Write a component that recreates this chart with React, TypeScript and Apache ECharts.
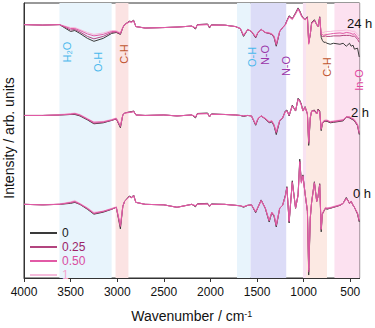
import React, { useEffect, useRef } from "react";
import * as echarts from "echarts";

// Wavenumber grid (cm^-1), descending
const wavenumbers = [4000,3800,3620,3500,3455,3400,3320,3250,3150,3060,
3010,2966,2940,2921,2870,2845,2824,2800,2700,2500,
2359,
2200,2160,2140,2030,2010,1990,
1850,1732,1680,1645,1600,1560,1515,
1490,1456,1412,1370,1342,1318,1294,1257,1226,1197,
1180,1156,1122,1087,1060,1042,1025,1008,985,960,
946,929,915,885,860,846,828,812,800,784,
766,750,715,680,611,577,543,508,491,470,
456,422,404];

// 0 h spectra
const h0_c0 = [75,74.5,75,76,77,75,70,65,67,70,
72,50,73,78,83.5,82,84.5,77,75,74.5,
72,
75,72.5,75.5,76,73,75.5,
75,74,73.5,72,74,74.5,66.5,
72,79.5,71,57,66.5,63,52,71,74,84,
93,56,99,71,85,121,98,105,86,68,
3,61,77,98,78,83,96,47,65,68,
71,70,71,72,74,76,82,76,78,74,
72,65,57];
const h0_c025 = [75,74.5,75,76.5,77.5,75,70.5,65.5,67.5,70,
72,52,73,78,83,82,84,77,75,74.5,
72,
75,73,75.5,75.5,73,75,
75,74,73.5,72.5,74,74.5,67,
72,79,71,58,66.5,63.5,53,71,74,83.5,
92,57,98,71,84.5,119,98,104,86,68,
6,61,77,97,78,83,95,49,65,68,
71,70.5,71,72,74,76,81.5,76,78,74,
72,65.5,58];
const h0_c050 = [75,74.5,75,77,78,75.5,71,66,68,70.5,
72,53,73,78,83,81.5,84,77,75,74.5,
72,
75,73.5,75,75.5,73.5,75,
75,74,73.5,72.5,74,74.5,67.5,
72,79,71.5,58.5,67,64,54,71,74,83,
92,58,97,71.5,84,118,97,104,86,68.5,
8,62,77,97,78,83,95,50,65.5,68.5,
71.5,71,71.5,72.5,74.5,76,81,76.5,78,74,
72,66,59];
const h0_c1 = [75,74.5,75.5,77.5,79,76,71.5,67,68,71,
72.5,55,73.5,78,82.5,81.5,83.5,77,75,74.5,
72,
75,74,75,75,74,75,
75,74,73.5,73,74,74.5,68,
72,78.5,71.5,59,67,64.5,55,71,74,82.5,
91,59,96,72,83.5,116,96,103,86,69,
10,62,77,96,78,82.5,94,52,66,69,
72,71.5,72,73,74.5,76,80.5,76.5,78,74,
72,66.5,60];

// 2 h spectra
const h2_c0 = [165.5,165.5,166,166.5,166.5,165,161,157,158,160.5,
162,153,166,168,169,169.5,170,166,165.5,166,
165,
166,163,167.5,168,164,167,
166.5,166,165.5,164.5,165.5,165,155.5,
162,165,162,158,159,155,146,160,163,170,
171,165,176,170,183,181,177,170,174.5,167,
135,163,170,171,167,172,170,150,157,159.5,
159.5,159.5,158,158.5,159.5,160,164,163,162,161,
160,155,146];
const h2_c025 = [165.5,165.5,166,166.5,167,165.5,161.5,157.5,158.5,160.5,
162,154,166,168,169,169,170,166,165.5,166,
165,
166,163.5,167.5,167.5,164,167,
166.5,166,165.5,165,165.5,165,156,
162,165,162,158.5,159.5,155.5,147.5,160,163,169.5,
170.5,165.5,175.5,170,182.5,180.5,176.5,170,174,167,
137,163,170,170.5,167,171.5,169.5,151,157,159.5,
160,160,158.5,159,160,160.5,164,163.5,162.5,161.5,
160.5,155.5,147];
const h2_c050 = [165.5,165.5,166,167,167.5,166,162,158.5,159,161,
162.5,154.5,166,168,168.5,169,169.5,166,165.5,166,
165,
166,164,167,167.5,164.5,166.5,
166.5,166,165.5,165,165.5,165,156.5,
162.5,165,162.5,159,160,156,148.5,160.5,163,169.5,
170,166,175,170.5,182,180,176,170,174,167.5,
139,163.5,170,170,167,171,169,152,157.5,160,
160.5,160.5,159,159.5,160.5,161,164,164,163,162,
161,156,148];
const h2_c1 = [165.5,165.5,166.5,167.5,168,166.5,162.5,159,159.5,161.5,
163,156,166,168,168.5,168.5,169,166,165.5,166,
165,
166,164.5,167,167,165,166.5,
166.5,166,165.5,165.5,165.5,165,157,
163,165,163,159.5,160.5,156.5,149.5,161,163,169,
169.5,166.5,174.5,170.5,181,179,175.5,170,173.5,168,
141,164,170,169.5,167,170.5,168.5,153,158,160.5,
161,161,159.5,160,161,161.5,164,164.5,163.5,162.5,
161.5,157,150];

// 24 h spectra
const h24_c0 = [258,257.5,258,251,252,249,244,241,244,249,
250,248,255,258,261.5,261,262.5,256,254.5,255,
255.5,
256.5,253.5,258,258.5,254.5,258,
257.5,256,254,246,253,251,244.5,
250,253,250,249,248,245,236,251,255,258,
262,267,264,270,275,272,268,265,263,266,
240,248,260,263,258,256,266,245,242,240,
240,239,238,239,238,239,236,239,236,237,
233,234,225];
const h24_c025 = [258,257.5,258,252.5,253,250.5,246,243.5,246,250,
250.5,248.5,255,258,261,261,262,256,254.5,255,
255.5,
256.5,254,258,258.5,255,257.5,
257.5,256,254,246.5,253,251,245,
250,253,250,249,248,245.5,237,251,255,258,
262,266.5,264,269.5,274.5,271.5,267.5,265,263,265.5,
239,248,259.5,262.5,258,256,265.5,247,246,246,
246.5,246,246,246.5,246.5,247,247,247,246.5,246,
246.5,243,240];
const h24_c050 = [258,257.5,258,254,254,252,248.5,246.5,248,251,
251,249,255,258,261,260.5,262,256,254.5,255,
255.5,
256.5,254.5,257.5,258,255.5,257.5,
257.5,256,254,247,253,251,245.5,
250,253,250,249.5,248.5,246,238,251,255,257.5,
261.5,266,263.5,269,274,271,267,264.5,263,265,
238,248.5,259,262,258,256,265,248,248,247,
248,248,248.5,249,249.5,249,250,249.5,249,248,
249,245,243];
const h24_c1 = [258,257.5,258,255,255,253,250,248,249.5,252,
252,250,255.5,258,260.5,260,261.5,256,254.5,255,
255.5,
256.5,255,257.5,258,256,257.5,
257.5,256,254.5,248,253,251.5,246.5,
250.5,253,250.5,250,249,247,240,251.5,255,257,
261,265.5,263,268.5,273,270,266.5,264,263,264.5,
242,249,258.5,261.5,258,256,264.5,249,250,250,
251,251,251,251.5,252,252,252.5,252,251.5,251,
251.5,248,246];

const concentrations = ["0", "0.25", "0.50", "1"];
const timeLabels = ["0 h", "2 h", "24 h"];
const spectra: Record<string, number[][]> = {
  "0": [h0_c0, h2_c0, h24_c0],
  "0.25": [h0_c025, h2_c025, h24_c025],
  "0.50": [h0_c050, h2_c050, h24_c050],
  "1": [h0_c1, h2_c1, h24_c1],
};
const xTicks = [500, 1000, 1500, 2000, 2500, 3000, 3500, 4000];

// Shaded assignment bands (cm^-1)
const bandStarts = [3620, 3018, 1715, 1570, 1008, 975, 670];
const bandEnds = [3060, 2880, 1570, 1187, 975, 750, 400];
const bandLabels = ["H₂O", "O-H", "C-H", "O-H", "N-O", "N-O", "C-H", "In-O"];

const FONT = "'Liberation Sans', Arial, Helvetica, sans-serif";
const lineColors: Record<string, string> = {
  "0": "#3a3a3a",
  "0.25": "#b3457f",
  "0.50": "#e25aa6",
  "1": "#f6bcdc",
};
const legendTextColors: Record<string, string> = {
  "0": "#1a1a1a",
  "0.25": "#9b2468",
  "0.50": "#d94ca0",
  "1": "#f2a6d0",
};
const bandColors = ["#e8f4fc", "#fbe3e3", "#e8f4fc", "#dcdcf7", "#f8e2f2", "#fce9e3", "#fce1f0"];
const bandLabelColors = ["#4ab8ec", "#4ab8ec", "#c0562f", "#4ab8ec", "#9a35a8", "#9a35a8", "#c0562f", "#e0449e"];
const bandLabelPos = [[67, 52], [98, 62], [124, 54], [252, 57], [265, 55], [286, 66], [327, 67], [359, 80]];
const timeLabelPos = [[353, 193], [351, 112], [347, 23]];

export default function App() {
  const ref = useRef<HTMLDivElement>(null);
  useEffect(() => {
    if (!ref.current) return;
    const chart = echarts.init(ref.current, undefined, { renderer: "svg" });
    const drawOrder = ["0", "1", "0.25", "0.50"];
    const series: any[] = [];
    drawOrder.forEach((c) => {
      spectra[c].forEach((arr) => {
        series.push({
          type: "line",
          name: c,
          symbol: "none",
          silent: true,
          lineStyle: { color: lineColors[c], width: 1 },
          itemStyle: { color: lineColors[c] },
          data: wavenumbers.map((w, i) => [w, arr[i]]),
        });
      });
    });
    series[0].markArea = {
      silent: true,
      itemStyle: { opacity: 1 },
      data: bandStarts.map((s, i) => [
        { xAxis: s, itemStyle: { color: bandColors[i] } },
        { xAxis: bandEnds[i] },
      ]),
    };
    const graphic: any[] = [];
    bandLabels.forEach((t, i) => {
      graphic.push({
        type: "text",
        x: bandLabelPos[i][0],
        y: bandLabelPos[i][1],
        rotation: Math.PI / 2,
        silent: true,
        z: 100,
        style: {
          text: t,
          fill: bandLabelColors[i],
          font: `11px ${FONT}`,
          align: "center",
          verticalAlign: "middle",
        },
      });
    });
    timeLabels.forEach((t, i) => {
      graphic.push({
        type: "text",
        x: timeLabelPos[i][0],
        y: timeLabelPos[i][1],
        silent: true,
        z: 100,
        style: { text: t, fill: "#111", font: `13px ${FONT}`, align: "left", verticalAlign: "middle" },
      });
    });
    graphic.push({
      type: "text",
      x: 9,
      y: 138,
      rotation: Math.PI / 2,
      silent: true,
      z: 100,
      style: {
        text: "Intensity / arb. units",
        fill: "#111",
        font: `14px ${FONT}`,
        align: "center",
        verticalAlign: "middle",
      },
    });
    chart.setOption({
      animation: false,
      textStyle: { fontFamily: FONT },
      grid: { left: 24, right: 3, top: 3, bottom: 45, show: true, borderColor: "#333", borderWidth: 1, backgroundColor: "transparent" },
      legend: {
        orient: "vertical",
        left: 25,
        top: 221,
        itemWidth: 27,
        itemHeight: 2,
        itemGap: 0,
        icon: "rect",
        selectedMode: false,
        textStyle: { fontSize: 12, lineHeight: 14, fontFamily: FONT },
        data: concentrations.map((c) => ({ name: c, textStyle: { color: legendTextColors[c] } })),
      },
      xAxis: {
        type: "value",
        min: 400,
        max: 4000,
        inverse: true,
        name: "Wavenumber / cm{sup|-1}",
        nameLocation: "middle",
        nameGap: 31,
        nameTextStyle: {
          fontSize: 14,
          color: "#111",
          fontFamily: FONT,
          rich: { sup: { fontSize: 9, verticalAlign: "top", lineHeight: 9, color: "#111" } },
        },
        axisLine: { lineStyle: { color: "#333", width: 1 } },
        axisTick: { show: true, length: 4, lineStyle: { color: "#333" }, customValues: xTicks },
        axisLabel: { fontSize: 12, color: "#111", margin: 8, customValues: xTicks, formatter: (v: number) => String(v) },
        splitLine: { show: false },
      },
      yAxis: {
        type: "value",
        min: 0,
        max: 280,
        axisLine: { show: true, lineStyle: { color: "#333" } },
        axisTick: { show: false },
        axisLabel: { show: false },
        splitLine: { show: false },
      },
      series,
      graphic,
    });
    return () => chart.dispose();
  }, []);
  return <div ref={ref} style={{ position: "absolute", left: 0, top: 0, width: 375, height: 328 }} />;
}
